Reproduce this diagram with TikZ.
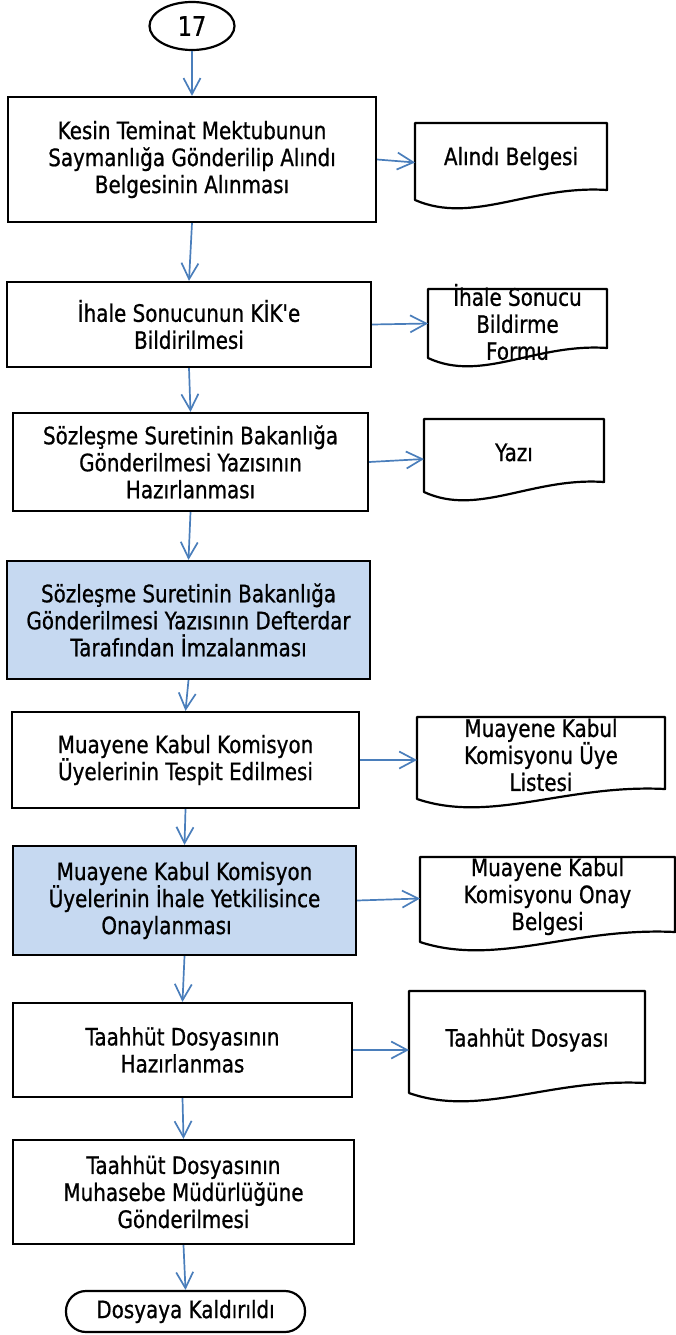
\documentclass[tikz,border=0pt]{standalone}
\usepackage{fontspec}
\setmainfont{DejaVu Sans}[FakeStretch=0.83, FakeBold=0.8, Ligatures=TeXOff]
\usetikzlibrary{arrows.meta,calc,shapes.geometric}
\definecolor{arrblue}{RGB}{74,126,187}
\definecolor{hlblue}{RGB}{198,217,241}
\newcommand\mydocwave[1]{%
  \draw[doclin] (#1.south east) -- (#1.north east) -- (#1.north west) --
    ($(#1.south west)+(0,10)$) .. controls ($(#1.south west)!0.3!(#1.south east)+(0,35)$)
    and ($(#1.south west)!0.6!(#1.south east)+(0,-5)$) .. (#1.south east) -- cycle;}
\begin{document}
\begin{tikzpicture}[x=1pt,y=-1pt,
  every node/.style={font=\fontsize{24}{27}\selectfont},
  proc/.style={draw=black, line width=2.2pt, align=center, inner sep=0pt},
  hl/.style={fill=hlblue},
  docbox/.style={inner sep=0pt, outer sep=0pt},
  doctext/.style={align=center, inner sep=0pt},
  doclin/.style={draw=black, line width=2.2pt, line join=round},
  arr/.style={draw=arrblue, line width=1.7pt, -{Straight Barb[length=16pt,width=17pt,line width=1.7pt]}},
]
\useasboundingbox (0,0) rectangle (676,1335);

% start / end
\node[draw, ellipse, line width=2.2pt, minimum width=85pt, minimum height=48pt, inner sep=0pt, font=\fontsize{27}{30}\selectfont] (s) at (192,26) {17};
\node[draw, line width=2.2pt, rounded corners=20pt, minimum width=239pt, minimum height=41pt, inner sep=0pt] (e) at (185.5,1311.5) {Dosyaya Kaldırıldı};

% process boxes
\node[proc, minimum width=368pt, minimum height=125pt] (b1) at (192,159.5) {Kesin Teminat Mektubunun\\Saymanlığa Gönderilip Alındı\\Belgesinin Alınması};
\node[proc, minimum width=364pt, minimum height=85pt] (b2) at (189,324.5) {İhale Sonucunun KİK'e\\Bildirilmesi};
\node[proc, minimum width=355pt, minimum height=98pt] (b3) at (190.5,462) {Sözleşme Suretinin Bakanlığa\\Gönderilmesi Yazısının\\Hazırlanması};
\node[proc, hl, minimum width=363pt, minimum height=118pt] (b4) at (188.5,620) {Sözleşme Suretinin Bakanlığa\\Gönderilmesi Yazısının Defterdar\\Tarafından İmzalanması};
\node[proc, minimum width=347pt, minimum height=96pt] (b5) at (185.5,760) {Muayene Kabul Komisyon\\Üyelerinin Tespit Edilmesi};
\node[proc, hl, minimum width=343pt, minimum height=109pt] (b6) at (184.5,900.5) {Muayene Kabul Komisyon\\Üyelerinin İhale Yetkilisince\\Onaylanması\hspace*{36pt}};
\node[proc, minimum width=339pt, minimum height=94pt] (b7) at (182.5,1050) {Taahhüt Dosyasının\\Hazırlanmas};
\node[proc, minimum width=341pt, minimum height=104pt] (b8) at (183.5,1192) {Taahhüt Dosyasının\\Muhasebe Müdürlüğüne\\Gönderilmesi};

% documents
\node[docbox, minimum width=192pt, minimum height=67pt] (d1) at (511,156.5) {};
\node[docbox, minimum width=179pt, minimum height=59pt] (d2) at (517.5,318.5) {};
\node[docbox, minimum width=180pt, minimum height=63pt] (d3) at (514,450.5) {};
\node[docbox, minimum width=248pt, minimum height=72pt] (d5) at (541,753) {};
\node[docbox, minimum width=255pt, minimum height=75pt] (d6) at (547.5,894.5) {};
\node[docbox, minimum width=236pt, minimum height=92pt] (d7) at (527,1037) {};
\mydocwave{d1}
\mydocwave{d2}
\mydocwave{d3}
\mydocwave{d5}
\mydocwave{d6}
\mydocwave{d7}
\node[doctext] (t1) at ([yshift=-2pt]d1.center) {Alındı Belgesi};
\node[doctext] (t2) at ([yshift=-3.5pt]d2.center) {İhale Sonucu\\Bildirme\\Formu};
\node[doctext] (t3) at ([yshift=-2pt]d3.center) {Yazı};
\node[doctext] (t5) at ([yshift=-2pt]d5.center) {Muayene Kabul\\Komisyonu Üye\\Listesi};
\node[doctext] (t6) at ([yshift=-2pt]d6.center) {Muayene Kabul\\Komisyonu Onay\\Belgesi};
\node[doctext] (t7) at ([yshift=-3pt]d7.center) {Taahhüt Dosyası};

% vertical flow
\draw[arr] (s.south) -- (b1.north);
\draw[arr] (b1.south) -- (b2.north);
\draw[arr] (b2.south) -- (b3.north);
\draw[arr] (b3.south) -- (b4.north);
\draw[arr] (b4.south) -- (b5.north);
\draw[arr] (b5.south) -- (b6.north);
\draw[arr] (b6.south) -- (b7.north);
\draw[arr] (b7.south) -- (b8.north);
\draw[arr] (b8.south) -- (e.north);

% to documents
\draw[arr] (b1.east) -- ([yshift=-6pt]d1.west);
\draw[arr] (b2.east) -- ([yshift=-5pt]d2.west);
\draw[arr] (b3.east) -- ([yshift=-8.5pt]d3.west);
\draw[arr] (b5.east) -- ([yshift=-7pt]d5.west);
\draw[arr] (b6.east) -- ([yshift=-4pt]d6.west);
\draw[arr] (b7.east) -- ([yshift=-13pt]d7.west);
\end{tikzpicture}
\end{document}
